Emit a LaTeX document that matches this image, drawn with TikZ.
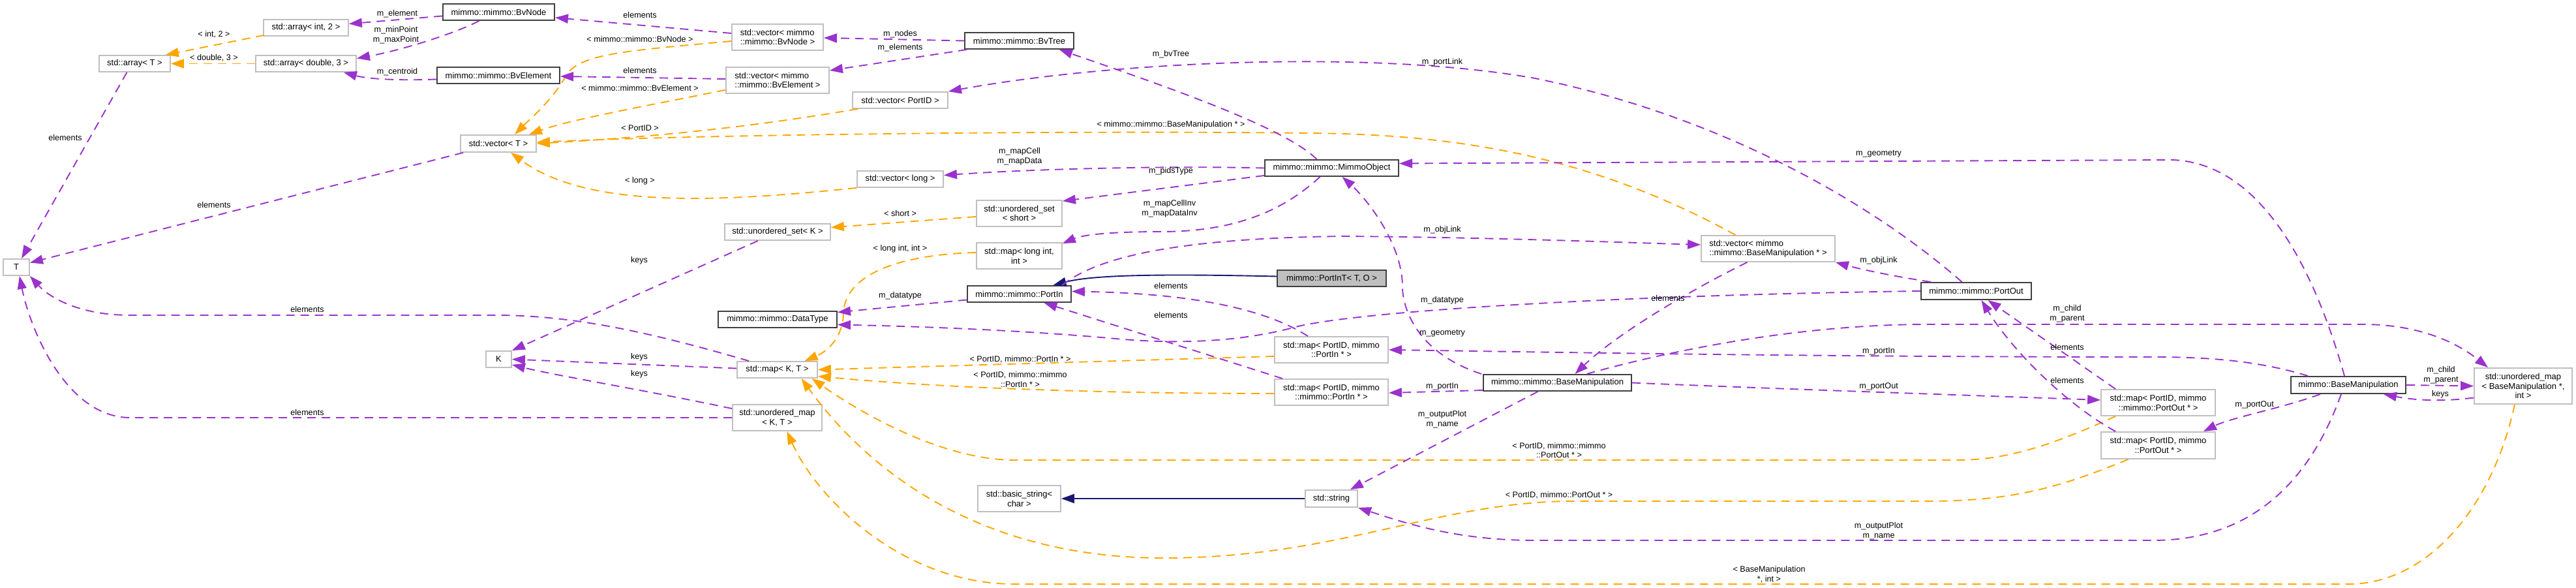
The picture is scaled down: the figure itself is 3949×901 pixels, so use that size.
\documentclass[tikz,border=0pt]{standalone}
\usepackage{fontspec}
\setmainfont{Liberation Sans}
\usetikzlibrary{arrows.meta,calc}
\definecolor{pcol}{HTML}{9A32CD}
\definecolor{ocol}{HTML}{FFA500}
\definecolor{icol}{HTML}{191970}
\definecolor{gbord}{HTML}{BFBFBF}
\definecolor{bbord}{HTML}{404040}
\definecolor{gfill}{HTML}{BFBFBF}
\newcommand{\nodefnt}{\fontsize{13}{14.7}\selectfont}
\newcommand{\lblfnt}{\fontsize{12.6}{14.7}\selectfont}
\begin{document}
\begin{tikzpicture}[x=1pt,y=-1pt,
  gb/.style={draw=gbord, line width=1.8pt, fill=white, inner sep=0pt, font=\nodefnt, align=center},
  bb/.style={draw=bbord, line width=2pt, fill=white, inner sep=0pt, font=\nodefnt, align=center},
  lb/.style={inner sep=0pt, font=\lblfnt, align=center},
  pe/.style={draw=pcol, line width=1.9pt, dash pattern=on 13pt off 9pt, -{Triangle[length=20pt,width=14pt]}},
  oe/.style={draw=ocol, line width=1.9pt, dash pattern=on 13pt off 9pt, -{Triangle[length=20pt,width=14pt]}},
  ie/.style={draw=icol, line width=1.9pt, -{Triangle[length=20pt,width=14pt]}}]
\useasboundingbox (0,0) rectangle (3949,901);
\fill[white] (0,0) rectangle (3949,901);

% nodes
\node[gb,minimum width=130pt,minimum height=25pt] (arrInt2) at (469,42.5) {std::array< int, 2 >};
\node[gb,minimum width=109pt,minimum height=25pt] (arrT) at (206.5,97.5) {std::array< T >};
\node[gb,minimum width=154pt,minimum height=25pt] (arrDbl3) at (469,97.5) {std::array< double, 3 >};
\node[gb,minimum width=40pt,minimum height=25pt] (T) at (25,409.5) {T};
\node[bb,minimum width=171pt,minimum height=25pt] (BvNode) at (764.5,18.5) {mimmo::mimmo::BvNode};
\node[bb,minimum width=188pt,minimum height=25pt] (BvElement) at (764,115.5) {mimmo::mimmo::BvElement};
\node[gb,minimum width=116pt,minimum height=26pt] (vecT) at (764,220) {std::vector< T >};
\node[gb,minimum width=39pt,minimum height=25pt] (K) at (764.5,550.5) {K};
\node[gb,minimum width=140pt,minimum height=40pt,align=left] (vecBvNode) at (1192,57) {std::vector< mimmo\\::mimmo::BvNode >};
\node[gb,minimum width=158pt,minimum height=40pt,align=left] (vecBvElem) at (1192,123) {std::vector< mimmo\\::mimmo::BvElement >};
\node[gb,minimum width=162pt,minimum height=25pt] (usetK) at (1192,355.5) {std::unordered\_set< K >};
\node[bb,minimum width=182pt,minimum height=25pt] (DataType) at (1192,489.5) {mimmo::mimmo::DataType};
\node[gb,minimum width=123pt,minimum height=25pt] (mapKT) at (1191.5,566.5) {std::map< K, T >};
\node[gb,minimum width=137pt,minimum height=40pt] (umapKT) at (1191.5,640) {std::unordered\_map\\< K, T >};
\node[gb,minimum width=146pt,minimum height=25pt] (vecPortID) at (1380,153.5) {std::vector< PortID >};
\node[gb,minimum width=132pt,minimum height=25pt] (vecLong) at (1380,274.5) {std::vector< long >};
\node[bb,minimum width=167pt,minimum height=25pt] (BvTree) at (1562.5,62.5) {mimmo::mimmo::BvTree};
\node[gb,minimum width=131pt,minimum height=40pt] (usetShort) at (1562.5,327) {std::unordered\_set\\< short >};
\node[gb,minimum width=131pt,minimum height=40pt] (mapLongInt) at (1562.5,392) {std::map< long int,\\int >};
\node[bb,minimum width=159pt,minimum height=25pt] (PortIn) at (1562.5,450.5) {mimmo::mimmo::PortIn};
\node[gb,minimum width=127pt,minimum height=40pt] (basicString) at (1562.5,764) {std::basic\_string<\\char >};
\node[bb,minimum width=205pt,minimum height=25pt] (MimmoObject) at (2041.5,257.5) {mimmo::mimmo::MimmoObject};
\node[bb,fill=gfill,minimum width=167pt,minimum height=25pt] (PortInT) at (2041.5,426.5) {mimmo::PortInT< T, O >};
\node[gb,minimum width=174pt,minimum height=40pt] (mapPortIn1) at (2041,536) {std::map< PortID, mimmo\\::PortIn * >};
\node[gb,minimum width=174pt,minimum height=40pt] (mapPortIn2) at (2041,601) {std::map< PortID, mimmo\\::mimmo::PortIn * >};
\node[gb,minimum width=80pt,minimum height=26pt] (stdString) at (2041,764) {std::string};
\node[bb,minimum width=227pt,minimum height=25pt] (BaseManipMM) at (2387.5,586.5) {mimmo::mimmo::BaseManipulation};
\node[gb,minimum width=205pt,minimum height=40pt,align=left] (vecBaseManip) at (2710.5,381) {std::vector< mimmo\\::mimmo::BaseManipulation * >};
\node[bb,minimum width=169pt,minimum height=26pt] (PortOut) at (3029.5,446) {mimmo::mimmo::PortOut};
\node[gb,minimum width=175pt,minimum height=40pt] (mapPortOut1) at (3308.5,617) {std::map< PortID, mimmo\\::mimmo::PortOut * >};
\node[gb,minimum width=175pt,minimum height=41pt] (mapPortOut2) at (3308.5,682.5) {std::map< PortID, mimmo\\::PortOut * >};
\node[bb,minimum width=176pt,minimum height=26pt] (BaseManip) at (3600,590) {mimmo::BaseManipulation};
\node[gb,minimum width=150pt,minimum height=55pt] (umapBM) at (3868,591.5) {std::unordered\_map\\< BaseManipulation *,\\int >};

% edges
\draw[pe] ($(BvNode.west)+(0,6)$) -- ($(arrInt2.east)+(0,-6)$);
\draw[pe] ($(BvNode.south)+(-30,0)$) .. controls (700,50) and (620,76) .. ($(arrDbl3.east)+(0,-8)$);
\draw[pe] ($(BvElement.west)+(0,6)$) .. controls (600,124) and (560,120) .. ($(arrDbl3.south east)+(-20,0)$);
\draw[oe] ($(arrInt2.south west)+(2,-2)$) -- ($(arrT.north east)+(-8,0)$);
\draw[oe] (arrDbl3.west) -- (arrT.east);
\draw[pe] ($(arrT.south)+(-12,0)$) -- ($(T.north)+(8,0)$);
\draw[pe] ($(vecT.south west)+(5,0)$) -- ($(T.east)+(0,-7)$);
\draw[pe] ($(mapKT.north west)+(19,0)$) .. controls (1000,510) and (880,483) .. (760,483) -- (200,483) .. controls (120,483) and (75,455) .. (T.south east);
\draw[pe] (umapKT.west) -- (200,640) .. controls (100,640) and (45,500) .. ($(T.south)+(5,0)$);
\draw[pe] ($(usetK.south)+(-30,0)$) -- (K.north east);
\draw[pe] ($(mapKT.west)+(0,-2)$) -- (K.east);
\draw[pe] ($(umapKT.north west)+(0,7)$) .. controls (1000,600) and (850,575) .. ($(K.south east)+(0,-5)$);
\draw[pe] ($(vecBvNode.west)+(0,-6)$) -- ($(BvNode.east)+(0,8.5)$);
\draw[oe] ($(vecBvNode.west)+(0,6)$) .. controls (960,78) and (890,82) .. (868,115) .. controls (850,150) and (815,180) .. ($(vecT.north)+(25,0)$);
\draw[pe] ($(vecBvElem.west)+(0,-2)$) -- ($(BvElement.east)+(0,1.5)$);
\draw[oe] ($(vecBvElem.south west)+(0,-6)$) .. controls (950,170) and (870,185) .. ($(vecT.north east)+(-12,0)$);
\draw[oe] ($(vecPortID.south west)+(9,0)$) .. controls (1150,195) and (1000,210) .. (vecT.east);
\draw[oe] ($(vecBaseManip.north)+(-50,0)$) .. controls (2450,245) and (2250,205) .. (2000,204) .. controls (1700,200) and (1100,205) .. ($(vecT.east)+(0,-2)$);
\draw[oe] (vecLong.south west) .. controls (1100,310) and (900,320) .. ($(vecT.south)+(19,0)$);
\draw[oe] ($(usetShort.west)+(0,5)$) -- ($(usetK.east)+(0,-7)$);
\draw[oe] ($(mapLongInt.west)+(0,-5)$) .. controls (1380,390) and (1295,420) .. (1293,480) .. controls (1292,520) and (1265,540) .. ($(mapKT.north)+(42,0)$);
\draw[pe] ($(PortIn.west)+(0,9)$) -- ($(DataType.east)+(0,-11)$);
\draw[pe] (PortOut.west) .. controls (2500,452) and (2100,475) .. (1990,500) .. controls (1900,525) and (1800,528) .. (1700,518) .. controls (1550,505) and (1400,500) .. ($(DataType.east)+(0,8)$);
\draw[pe] ($(MimmoObject.north)+(-23,0)$) .. controls (1970,195) and (1780,130) .. ($(BvTree.south east)+(-23,0)$);
\draw[pe] ($(PortOut.north)+(-22,0)$) .. controls (2880,320) and (2650,180) .. (2353,120) .. controls (2100,75) and (1700,95) .. (vecPortID.north east);
\draw[pe] ($(BaseManip.north)+(-6,0)$) .. controls (3550,420) and (3470,250) .. (3330,245) -- ($(MimmoObject.east)+(0,-7)$);
\draw[pe] ($(BaseManipMM.north west)+(-2,0)$) .. controls (2170,540) and (2150,470) .. (2150,440) .. controls (2150,370) and (2090,300) .. ($(MimmoObject.south)+(16,0)$);
\draw[pe] (MimmoObject.west) .. controls (1800,254) and (1600,258) .. ($(vecLong.east)+(0,-6)$);
\draw[pe] ($(MimmoObject.south west)+(0,-2)$) -- ($(usetShort.north east)+(0,2)$);
\draw[pe] ($(MimmoObject.south)+(-18,0)$) .. controls (1960,330) and (1880,355) .. (1780,355) .. controls (1700,355) and (1660,360) .. ($(mapLongInt.north east)+(0,2)$);
\draw[ie] ($(PortInT.west)+(0,-3)$) .. controls (1800,420) and (1680,420) .. ($(PortIn.north)+(52,0)$);
\draw[pe] ($(PortIn.north)+(66,0)$) .. controls (1680,395) and (1800,365) .. (2060,362) .. controls (2300,364) and (2500,372) .. ($(vecBaseManip.west)+(0,-6)$);
\draw[pe] ($(PortOut.north west)+(16,0)$) .. controls (2900,423) and (2850,412) .. (vecBaseManip.south east);
\draw[pe] ($(vecBaseManip.south)+(-32,0)$) .. controls (2600,440) and (2480,510) .. ($(BaseManipMM.north)+(27,0)$);
\draw[pe] ($(mapPortIn1.north)+(-36,0)$) .. controls (1950,480) and (1850,450) .. ($(PortIn.east)+(0,-4)$);
\draw[pe] ($(mapPortIn2.north west)+(13,0)$) -- ($(PortIn.south)+(38,0)$);
\draw[oe] ($(mapPortIn1.west)+(0,10)$) -- (mapKT.east);
\draw[oe] ($(mapPortIn2.west)+(0,2)$) .. controls (1700,603) and (1450,595) .. ($(mapKT.east)+(0,10)$);
\draw[oe] ($(mapPortOut1.south west)+(23,0)$) .. controls (3150,680) and (3080,705) .. (3000,705) -- (1556,705) .. controls (1450,705) and (1330,640) .. ($(mapKT.south)+(53,0)$);
\draw[oe] ($(mapPortOut2.south)+(-46,0)$) .. controls (3150,750) and (3080,768) .. (2950,768) -- (2406,768) .. controls (2200,770) and (2050,855) .. (1784,855) .. controls (1500,855) and (1330,720) .. ($(mapKT.south)+(37,0)$);
\draw[oe] ($(umapBM.south)+(-13,0)$) .. controls (3820,780) and (3720,895) .. (3600,895) -- (1556,895) .. controls (1380,895) and (1250,760) .. ($(umapKT.south)+(15,0)$);
\draw[ie] (stdString.west) -- (basicString.east);
\draw[pe] ($(BaseManipMM.south)+(-30,0)$) -- ($(stdString.north east)+(-12,0)$);
\draw[pe] ($(BaseManip.south)+(-11,0)$) .. controls (3540,740) and (3450,828) .. (3300,828) -- (2352,828) .. controls (2230,828) and (2150,800) .. (stdString.south east);
\draw[pe] ($(BaseManipMM.south west)+(0,-2)$) -- ($(mapPortIn2.east)+(0,1)$);
\draw[pe] ($(BaseManip.north west)+(27,0)$) .. controls (3460,552) and (3380,547) .. (3300,547) .. controls (2800,547) and (2400,540) .. (mapPortIn1.east);
\draw[pe] (BaseManipMM.east) .. controls (2700,595) and (3000,605) .. ($(mapPortOut1.west)+(0,-4)$);
\draw[pe] ($(BaseManip.south)+(-43,0)$) .. controls (3500,625) and (3420,640) .. ($(mapPortOut2.north east)+(-19,0)$);
\draw[pe] ($(mapPortOut1.north west)+(23,0)$) -- ($(PortOut.south)+(18,0)$);
\draw[pe] ($(mapPortOut2.north west)+(23,0)$) .. controls (3160,615) and (3080,530) .. ($(PortOut.south)+(8,0)$);
\draw[pe] ($(BaseManipMM.north)+(45,0)$) .. controls (2550,540) and (2750,497) .. (2957,497) -- (3622,497) .. controls (3700,497) and (3760,520) .. ($(umapBM.north)+(-54,0)$);
\draw[pe] (BaseManip.east) -- (umapBM.west);
\draw[pe] ($(umapBM.west)+(0,18)$) .. controls (3740,616) and (3700,613) .. ($(BaseManip.south)+(54,0)$);
\draw[pe] (BvTree.west) -- ($(vecBvNode.east)+(0,1)$);
\draw[pe] ($(BvTree.south west)+(4,0)$) -- ($(vecBvElem.east)+(0,-15)$);

% labels
\node[lb] (l1) at (609,21) {m\_element};
\node[lb] (l2) at (607,54) {m\_minPoint\\m\_maxPoint};
\node[lb] (l3) at (609,110) {m\_centroid};
\node[lb] (l4) at (328,53) {< int, 2 >};
\node[lb] (l5) at (328,89) {< double, 3 >};
\node[lb] (l6) at (100,211) {elements};
\node[lb] (l7) at (328,314) {elements};
\node[lb] (l8) at (471,474) {elements};
\node[lb] (l9) at (471,632) {elements};
\node[lb] (l10) at (980,399) {keys};
\node[lb] (l11) at (980,547) {keys};
\node[lb] (l12) at (980,573) {keys};
\node[lb] (l13) at (981,23) {elements};
\node[lb] (l14) at (981,60) {< mimmo::mimmo::BvNode >};
\node[lb] (l15) at (981,108) {elements};
\node[lb] (l16) at (981,135) {< mimmo::mimmo::BvElement >};
\node[lb] (l17) at (981,196) {< PortID >};
\node[lb] (l18) at (1795,191) {< mimmo::mimmo::BaseManipulation * >};
\node[lb] (l19) at (981,277) {< long >};
\node[lb] (l20) at (1380,327) {< short >};
\node[lb] (l21) at (1380,381) {< long int, int >};
\node[lb] (l22) at (1380,453) {m\_datatype};
\node[lb] (l23) at (2211,460) {m\_datatype};
\node[lb] (l24) at (1795,83) {m\_bvTree};
\node[lb] (l25) at (2211,95) {m\_portLink};
\node[lb] (l26) at (2880,236) {m\_geometry};
\node[lb] (l27) at (2211,511) {m\_geometry};
\node[lb] (l28) at (1563,240) {m\_mapCell\\m\_mapData};
\node[lb] (l29) at (1795,262) {m\_pidsType};
\node[lb] (l30) at (1793,320) {m\_mapCellInv\\m\_mapDataInv};
\node[lb] (l32) at (2211,352) {m\_objLink};
\node[lb] (l33) at (2880,399) {m\_objLink};
\node[lb] (l34) at (2557,457) {elements};
\node[lb] (l35) at (1795,438) {elements};
\node[lb] (l36) at (1795,483) {elements};
\node[lb] (l37) at (1564,551) {< PortID, mimmo::PortIn * >};
\node[lb] (l38) at (1564,581.5) {< PortID, mimmo::mimmo\\::PortIn * >};
\node[lb] (l39) at (2390,690) {< PortID, mimmo::mimmo\\::PortOut * >};
\node[lb] (l40) at (2390,759) {< PortID, mimmo::PortOut * >};
\node[lb] (l41) at (2712,880) {< BaseManipulation\\*, int >};
\node[lb] (l43) at (2211,643) {m\_outputPlot\\m\_name};
\node[lb] (l44) at (2880,814) {m\_outputPlot\\m\_name};
\node[lb] (l45) at (2211,592) {m\_portIn};
\node[lb] (l46) at (2880,538) {m\_portIn};
\node[lb] (l47) at (2880,592) {m\_portOut};
\node[lb] (l48) at (3456,620) {m\_portOut};
\node[lb] (l49) at (3169,532) {elements};
\node[lb] (l50) at (3169,583) {elements};
\node[lb] (l51) at (3169,481) {m\_child\\m\_parent};
\node[lb] (l52) at (3742,575) {m\_child\\m\_parent};
\node[lb] (l53) at (3741,604) {keys};
\node[lb] (l54) at (1380,52) {m\_nodes};
\node[lb] (l55) at (1380,73) {m\_elements};
\end{tikzpicture}
\end{document}
